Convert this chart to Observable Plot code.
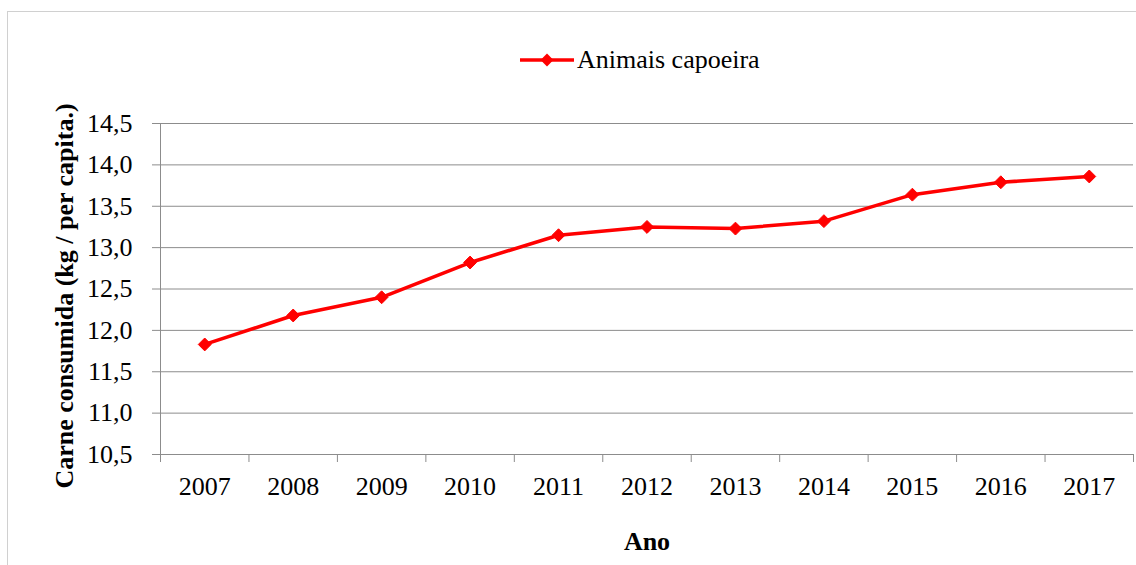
<!DOCTYPE html>
<html>
<head>
<meta charset="utf-8">
<script src="https://cdn.jsdelivr.net/npm/d3@7"></script>
<script src="https://cdn.jsdelivr.net/npm/@observablehq/plot@0.6"></script>
<style>
  html, body { margin: 0; padding: 0; background: #fff; }
  #wrap { position: relative; width: 1136px; height: 565px; overflow: hidden; font-family: "Liberation Serif", "Times New Roman", serif; }
  #border { position: absolute; left: 7px; top: 11px; width: 1140px; height: 570px; border: 1px solid #d0d0d0; box-sizing: border-box; }
  #chart { position: absolute; left: 0; top: 0; }
  #legend { position: absolute; left: 519px; top: 45px; display: flex; align-items: center; font-size: 26px; color: #000; }
  #legend svg { margin-right: 2px; }
</style>
</head>
<body>
<div id="wrap">
  <div id="border"></div>
  <div id="chart"></div>
  <div id="legend"></div>
</div>
<script>
const years = [2007, 2008, 2009, 2010, 2011, 2012, 2013, 2014, 2015, 2016, 2017];
const values = [11.83, 12.18, 12.40, 12.82, 13.15, 13.25, 13.23, 13.32, 13.64, 13.79, 13.86];
const yTicks = [10.5, 11.0, 11.5, 12.0, 12.5, 13.0, 13.5, 14.0, 14.5];
const seriesName = "Animais capoeira";
const xTitle = "Ano";
const yTitle = "Carne consumida (kg / per capita.)";

const data = years.map((y, i) => ({year: y, value: values[i]}));
const bounds = years.map(y => y - 0.5).concat([years[years.length - 1] + 0.5]);
const fmt = d => d.toFixed(1).replace(".", ",");
const gridColor = "#8c8c8c";
const red = "#ff0000";

const chart = Plot.plot({
  width: 1136,
  height: 565,
  marginLeft: 160,
  marginRight: 3,
  marginTop: 123,
  marginBottom: 111,
  style: {fontFamily: "'Liberation Serif', 'Times New Roman', serif", background: "transparent", color: "#000"},
  x: {type: "linear", domain: [bounds[0], bounds[bounds.length - 1]], axis: null},
  y: {domain: [yTicks[0], yTicks[yTicks.length - 1]], axis: null},
  marks: [
    Plot.gridY(yTicks, {stroke: gridColor, strokeOpacity: 1, strokeWidth: 1}),
    Plot.axisY(yTicks, {tickSize: 8, tickPadding: 20, tickFormat: fmt, fontSize: 26, stroke: gridColor, fill: "#000", label: null}),
    Plot.ruleX([bounds[0]], {stroke: gridColor, strokeWidth: 1}),
    Plot.ruleY([yTicks[0]], {stroke: gridColor, strokeWidth: 1}),
    Plot.axisX(bounds, {tickSize: 8, tickFormat: () => "", stroke: gridColor, label: null}),
    Plot.axisX(years, {tickSize: 0, tickPadding: 22, tickFormat: d => String(d), fontSize: 26, fill: "#000", label: null}),
    Plot.line(data, {x: "year", y: "value", stroke: red, strokeWidth: 3.5}),
    Plot.dot(data, {x: "year", y: "value", symbol: "diamond2", r: 5.8, fill: red, stroke: red, strokeWidth: 1}),
    Plot.text([yTitle], {frameAnchor: "left", textAnchor: "middle", lineAnchor: "middle", rotate: -90, dx: -96, dy: 7, fontSize: 26, fontWeight: "bold", fill: "#000"}),
    Plot.text([xTitle], {frameAnchor: "bottom", textAnchor: "middle", lineAnchor: "middle", dy: 87, fontSize: 26, fontWeight: "bold", fill: "#000"})
  ]
});
document.getElementById("chart").appendChild(chart);

// legend
const leg = document.getElementById("legend");
const ls = d3.create("svg").attr("width", 56).attr("height", 20);
ls.append("line").attr("x1", 1).attr("x2", 55).attr("y1", 10).attr("y2", 10).attr("stroke", red).attr("stroke-width", 3.5);
ls.append("path").attr("d", d3.symbol(d3.symbolDiamond2, 5.8 * 5.8 * Math.PI)()).attr("transform", "translate(28,10)").attr("fill", red);
leg.appendChild(ls.node());
const span = document.createElement("span");
span.textContent = seriesName;
leg.appendChild(span);
</script>
</body>
</html>
